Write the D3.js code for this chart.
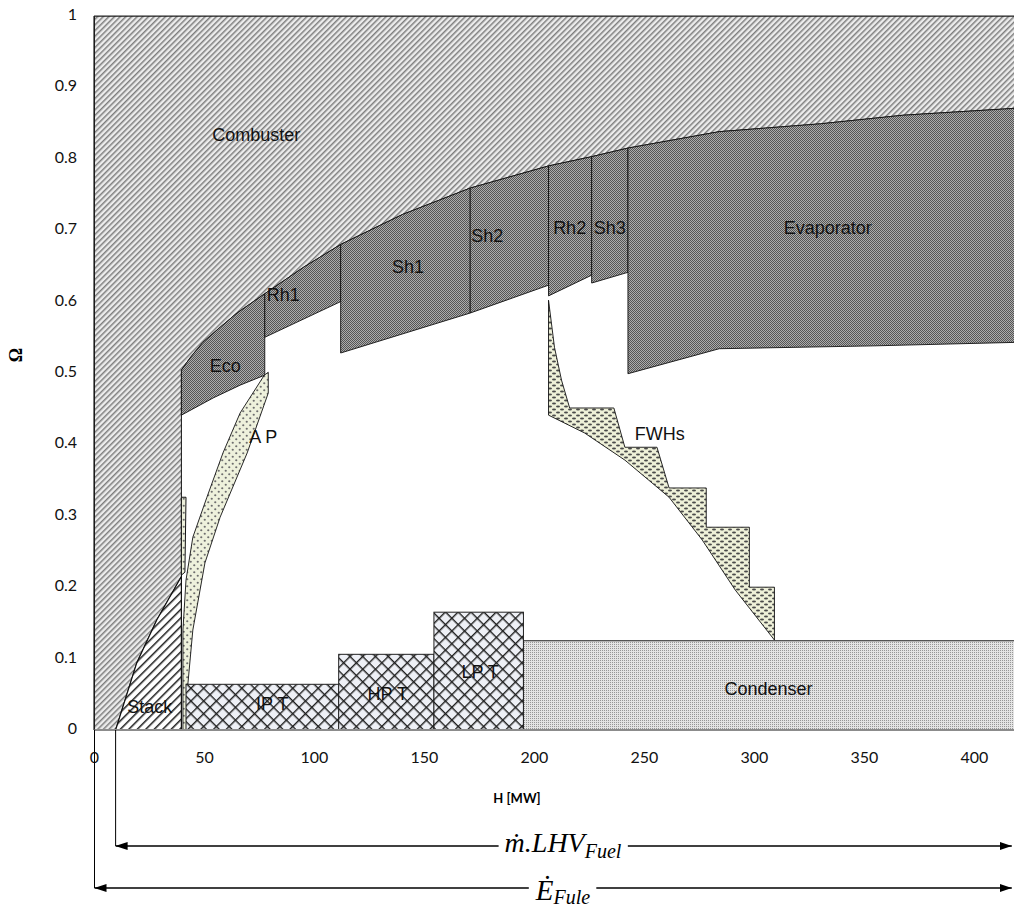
<!DOCTYPE html>
<html>
<head>
<meta charset="utf-8">
<script src="https://cdn.jsdelivr.net/npm/d3@7"></script>
<style>
body{margin:0;background:#fff;}
svg{display:block;}
</style>
</head>
<body>
<svg id="chart"></svg>
<script>
// values: H [MW] on x, Omega on y

var xTicks = [0, 50, 100, 150, 200, 250, 300, 350, 400];
var yTicks = [0, 0.1, 0.2, 0.3, 0.4, 0.5, 0.6, 0.7, 0.8, 0.9, 1];

// lower edge of the combuster = upper edge of the heat exchangers
var curveH = [39.5, 43.4, 49.3, 57.1, 64.8, 77.4, 95, 111.9, 140, 170.8, 206.4, 226, 242.5, 284, 330, 367.5, 420];
var curveO = [0.504, 0.521, 0.543, 0.564, 0.584, 0.611, 0.648, 0.680, 0.722, 0.759, 0.790, 0.803, 0.815, 0.838, 0.849, 0.861, 0.871];

var stackH = [9.6, 19.2, 28.3, 39.5];
var stackO = [0, 0.094, 0.154, 0.215];

var hxNames = ["Eco", "Rh1", "Sh1", "Sh2", "Rh2", "Sh3", "Evaporator"];
var hxStart = [39.5, 77.4, 111.9, 170.8, 206.4, 226, 242.5];
var hxEnd = [77.4, 111.9, 170.8, 206.4, 226, 242.5, 420];
var hxLowH = [[39.5, 53.9, 66.2, 77.4], [77.4, 111.9], [111.9, 170.8], [170.8, 206.4], [206.4, 226], [226, 242.5], [242.5, 284, 354, 420]];
var hxLowO = [[0.441, 0.465, 0.483, 0.497], [0.550, 0.600], [0.528, 0.584], [0.584, 0.623], [0.608, 0.637], [0.626, 0.641], [0.499, 0.534, 0.538, 0.543]];

var turbNames = ["IP T", "HP T", "LP T", "Condenser"];
var turbStart = [41.6, 111, 154.3, 195];
var turbEnd = [111, 154.3, 195, 420];
var turbTop = [0.064, 0.106, 0.165, 0.125];

var apH = [40.2, 40.2, 41.6, 44.7, 51.1, 58.4, 66.2, 77.2, 79.0, 79.0, 69.4, 57.1, 50.2, 44.7, 42.5, 41.8];
var apO = [0, 0.140, 0.210, 0.270, 0.326, 0.388, 0.444, 0.497, 0.501, 0.472, 0.388, 0.298, 0.234, 0.140, 0.066, 0];

var sliverH = [39.5, 41.6, 41.1, 39.5];
var sliverO = [0.326, 0.326, 0.221, 0.217];

var fwhH = [206.4, 209.1, 212.3, 216.0, 236.1, 241.1, 255.7, 261.2, 278.1, 278.1, 297.7, 297.7, 309.1, 309.1, 291.3, 276.3, 261.2, 241.1, 222.8, 206.4];
var fwhO = [0.602, 0.536, 0.490, 0.451, 0.451, 0.396, 0.396, 0.339, 0.339, 0.284, 0.284, 0.200, 0.200, 0.126, 0.196, 0.266, 0.326, 0.378, 0.416, 0.441];

var labelText = ["Combuster", "Eco", "Rh1", "Sh1", "Sh2", "Rh2", "Sh3", "Evaporator", "A P", "FWHs", "Stack", "IP T", "HP T", "LP T", "Condenser"];
var labelH = [73.5, 59.4, 85.8, 142.5, 178.5, 216, 234.2, 333.3, 76.7, 257, 25.1, 80.8, 133.3, 175.3, 306.4];
var labelO = [0.832, 0.508, 0.608, 0.647, 0.690, 0.702, 0.702, 0.702, 0.409, 0.413, 0.031, 0.035, 0.049, 0.080, 0.056];

var fuelStartH = 9.6;   // m.LHV_fuel starts where the stack starts
var arrowEndH = 417;

var width = 1014, height = 911;
var svg = d3.select('#chart').attr('width', width).attr('height', height);

var x = d3.scaleLinear().domain([0, 418]).range([94.5, 1014]);
var y = d3.scaleLinear().domain([0, 1]).range([730, 16]);

var defs = svg.append('defs');

defs.append('clipPath').attr('id', 'plotClip')
    .append('rect').attr('x', 94).attr('y', 16).attr('width', 920).attr('height', 714);

function stripes(id, size, bg, fg, w){
    var p = defs.append('pattern').attr('id', id)
        .attr('patternUnits', 'userSpaceOnUse')
        .attr('width', size).attr('height', size)
        .attr('patternTransform', 'rotate(45)');
    p.append('rect').attr('width', size).attr('height', size).attr('fill', bg);
    p.append('rect').attr('width', w).attr('height', size).attr('fill', fg);
}
stripes('pComb', 4, '#ececec', '#7e7e7e', 1.5);
stripes('pStack', 6, '#ffffff', '#1a1a1a', 1.5);

var pHx = defs.append('pattern').attr('id', 'pHx')
    .attr('patternUnits', 'userSpaceOnUse').attr('width', 2).attr('height', 2);
pHx.append('rect').attr('width', 2).attr('height', 2).attr('fill', '#acacac');
pHx.append('rect').attr('width', 1).attr('height', 1).attr('fill', '#555555');
pHx.append('rect').attr('x', 1).attr('y', 1).attr('width', 1).attr('height', 1).attr('fill', '#555555');

var pCond = defs.append('pattern').attr('id', 'pCond')
    .attr('patternUnits', 'userSpaceOnUse').attr('width', 2).attr('height', 2);
pCond.append('rect').attr('width', 2).attr('height', 2).attr('fill', '#e4e4e4');
pCond.append('rect').attr('width', 1).attr('height', 1).attr('fill', '#979797');

var pTurb = defs.append('pattern').attr('id', 'pTurb')
    .attr('patternUnits', 'userSpaceOnUse').attr('width', 9).attr('height', 9)
    .attr('patternTransform', 'rotate(45)');
pTurb.append('rect').attr('width', 9).attr('height', 9).attr('fill', '#eef0f6');
pTurb.append('rect').attr('width', 9).attr('height', 1.4).attr('fill', '#1e1e1e');
pTurb.append('rect').attr('width', 1.4).attr('height', 9).attr('fill', '#1e1e1e');

var pAp = defs.append('pattern').attr('id', 'pAp')
    .attr('patternUnits', 'userSpaceOnUse').attr('width', 7).attr('height', 7);
pAp.append('rect').attr('width', 7).attr('height', 7).attr('fill', '#eef1dc');
pAp.append('circle').attr('cx', 1.75).attr('cy', 1.75).attr('r', 1.1).attr('fill', '#6e6e6e');
pAp.append('circle').attr('cx', 5.25).attr('cy', 5.25).attr('r', 1.1).attr('fill', '#6e6e6e');

var pFwh = defs.append('pattern').attr('id', 'pFwh')
    .attr('patternUnits', 'userSpaceOnUse').attr('width', 8).attr('height', 6);
pFwh.append('rect').attr('width', 8).attr('height', 6).attr('fill', '#eef0d8');
pFwh.append('ellipse').attr('cx', 2).attr('cy', 1.5).attr('rx', 2).attr('ry', 1).attr('fill', '#4a4a4a');
pFwh.append('ellipse').attr('cx', 6).attr('cy', 4.5).attr('rx', 2).attr('ry', 1).attr('fill', '#4a4a4a');

var line = d3.line().x(d => x(d[0])).y(d => y(d[1]));
function closed(pts){ return line(pts) + 'Z'; }
function zipPts(hs, os){ return hs.map((h, i) => [h, os[i]]); }

var curvePts = zipPts(curveH, curveO);
var stackPts = zipPts(stackH, stackO);

var plot = svg.append('g').attr('clip-path', 'url(#plotClip)');

// combuster: everything above the exchanger curve and left of the stack
var combPts = [[0, 1], [420, 1]]
    .concat(curvePts.slice().reverse())
    .concat(stackPts.slice().reverse())
    .concat([[0, 0]]);
plot.append('path').attr('d', closed(combPts))
    .attr('fill', 'url(#pComb)').attr('stroke', '#111').attr('stroke-width', 1);

// heat exchangers
hxNames.forEach((name, i) => {
    var top = curvePts.filter(p => p[0] >= hxStart[i] && p[0] <= hxEnd[i]);
    var low = zipPts(hxLowH[i], hxLowO[i]).reverse();
    plot.append('path').attr('class', 'hx').attr('d', closed(top.concat(low)))
        .attr('fill', 'url(#pHx)').attr('stroke', '#111').attr('stroke-width', 0.9);
});

// stack
plot.append('path').attr('d', closed(stackPts.concat([[39.5, 0]])))
    .attr('fill', 'url(#pStack)').attr('stroke', '#111').attr('stroke-width', 1.2);

plot.append('path').attr('d', closed(zipPts(sliverH, sliverO)))
    .attr('fill', 'url(#pAp)').attr('stroke', '#111').attr('stroke-width', 1);

plot.append('path').attr('d', closed(zipPts(apH, apO)))
    .attr('fill', 'url(#pAp)').attr('stroke', '#111').attr('stroke-width', 0.9);

// turbines and condenser
turbNames.forEach((name, i) => {
    plot.append('rect')
        .attr('x', x(turbStart[i])).attr('y', y(turbTop[i]))
        .attr('width', x(turbEnd[i]) - x(turbStart[i]))
        .attr('height', y(0) - y(turbTop[i]))
        .attr('fill', name == 'Condenser' ? 'url(#pCond)' : 'url(#pTurb)')
        .attr('stroke', '#222').attr('stroke-width', 1);
});

plot.append('path').attr('d', closed(zipPts(fwhH, fwhO)))
    .attr('fill', 'url(#pFwh)').attr('stroke', '#111').attr('stroke-width', 0.9);

// labels
plot.selectAll('text.lbl').data(labelText).enter().append('text')
    .attr('class', 'lbl')
    .attr('x', (d, i) => x(labelH[i]))
    .attr('y', (d, i) => y(labelO[i]))
    .attr('text-anchor', 'middle')
    .attr('dominant-baseline', 'middle')
    .style('font-family', '"Liberation Sans", Arial, sans-serif')
    .style('font-size', '18px')
    .style('fill', '#111')
    .text(d => d);

// axes
svg.append('line').attr('x1', 94).attr('x2', 1014).attr('y1', y(0)).attr('y2', y(0))
    .attr('stroke', '#8c8c8c').attr('stroke-width', 2);
svg.append('line').attr('x1', 94).attr('x2', 94).attr('y1', y(1)).attr('y2', y(0))
    .attr('stroke', '#222').attr('stroke-width', 1.2);
svg.append('line').attr('x1', 94).attr('x2', 1014).attr('y1', y(1)).attr('y2', y(1))
    .attr('stroke', '#222').attr('stroke-width', 1.2);

svg.append('g').selectAll('text').data(yTicks).enter().append('text')
    .attr('x', 77).attr('y', d => y(d))
    .attr('text-anchor', 'end').attr('dominant-baseline', 'middle')
    .style('font-family', 'Lato, sans-serif').style('font-size', '16px').style('fill', '#111')
    .text(d => d3.format('~g')(d));

svg.append('g').selectAll('text').data(xTicks).enter().append('text')
    .attr('x', d => x(d)).attr('y', 759)
    .attr('text-anchor', 'middle').attr('dominant-baseline', 'middle')
    .style('font-family', 'Lato, sans-serif').style('font-size', '16px').style('fill', '#111')
    .text(d => d);

svg.append('text').attr('x', 517).attr('y', 800)
    .attr('text-anchor', 'middle').attr('dominant-baseline', 'middle')
    .style('font-family', 'Lato, sans-serif').style('font-size', '13px').style('font-weight', 'bold')
    .text('H [MW]');

svg.append('text').attr('transform', 'translate(18,355) rotate(-90)')
    .attr('text-anchor', 'middle').attr('dominant-baseline', 'middle')
    .style('font-family', '"Liberation Serif", serif').style('font-size', '18px').style('font-weight', 'bold')
    .text('\u03A9');

// energy arrows under the axis
defs.append('marker').attr('id', 'arr').attr('viewBox', '0 0 12 8')
    .attr('refX', 12).attr('refY', 4).attr('markerWidth', 12).attr('markerHeight', 8)
    .attr('markerUnits', 'userSpaceOnUse').attr('orient', 'auto-start-reverse')
    .append('path').attr('d', 'M0,0L12,4L0,8Z').attr('fill', '#000');

function energyArrow(h0, yPix, main, sub, mainSize, subSize, base, subDy){
    svg.append('line').attr('x1', x(h0)).attr('x2', x(h0)).attr('y1', y(0)).attr('y2', yPix)
        .attr('stroke', '#000').attr('stroke-width', 1);
    svg.append('line').attr('x1', x(h0)).attr('x2', x(arrowEndH)).attr('y1', yPix).attr('y2', yPix)
        .attr('stroke', '#000').attr('stroke-width', 1.3)
        .attr('marker-start', 'url(#arr)').attr('marker-end', 'url(#arr)');
    var t = svg.append('text').attr('x', 563).attr('y', yPix + base)
        .attr('text-anchor', 'middle')
        .style('font-family', '"Liberation Serif", "Times New Roman", serif')
        .style('font-style', 'italic');
    t.append('tspan').style('font-size', mainSize + 'px').text(main);
    t.append('tspan').attr('dy', subDy).style('font-size', subSize + 'px').text(sub);
    var bb = t.node().getBBox();
    svg.insert('rect', function(){ return t.node(); })
        .attr('x', bb.x - 6).attr('y', yPix - 3).attr('width', bb.width + 12).attr('height', 6)
        .attr('fill', '#fff');
}

energyArrow(fuelStartH, 846, '\u1E41.LHV', 'Fuel', 28, 20, 6, 6);
energyArrow(0, 888, '\u0116', 'Fule', 29, 20, 12, 4);
</script>
</body>
</html>
